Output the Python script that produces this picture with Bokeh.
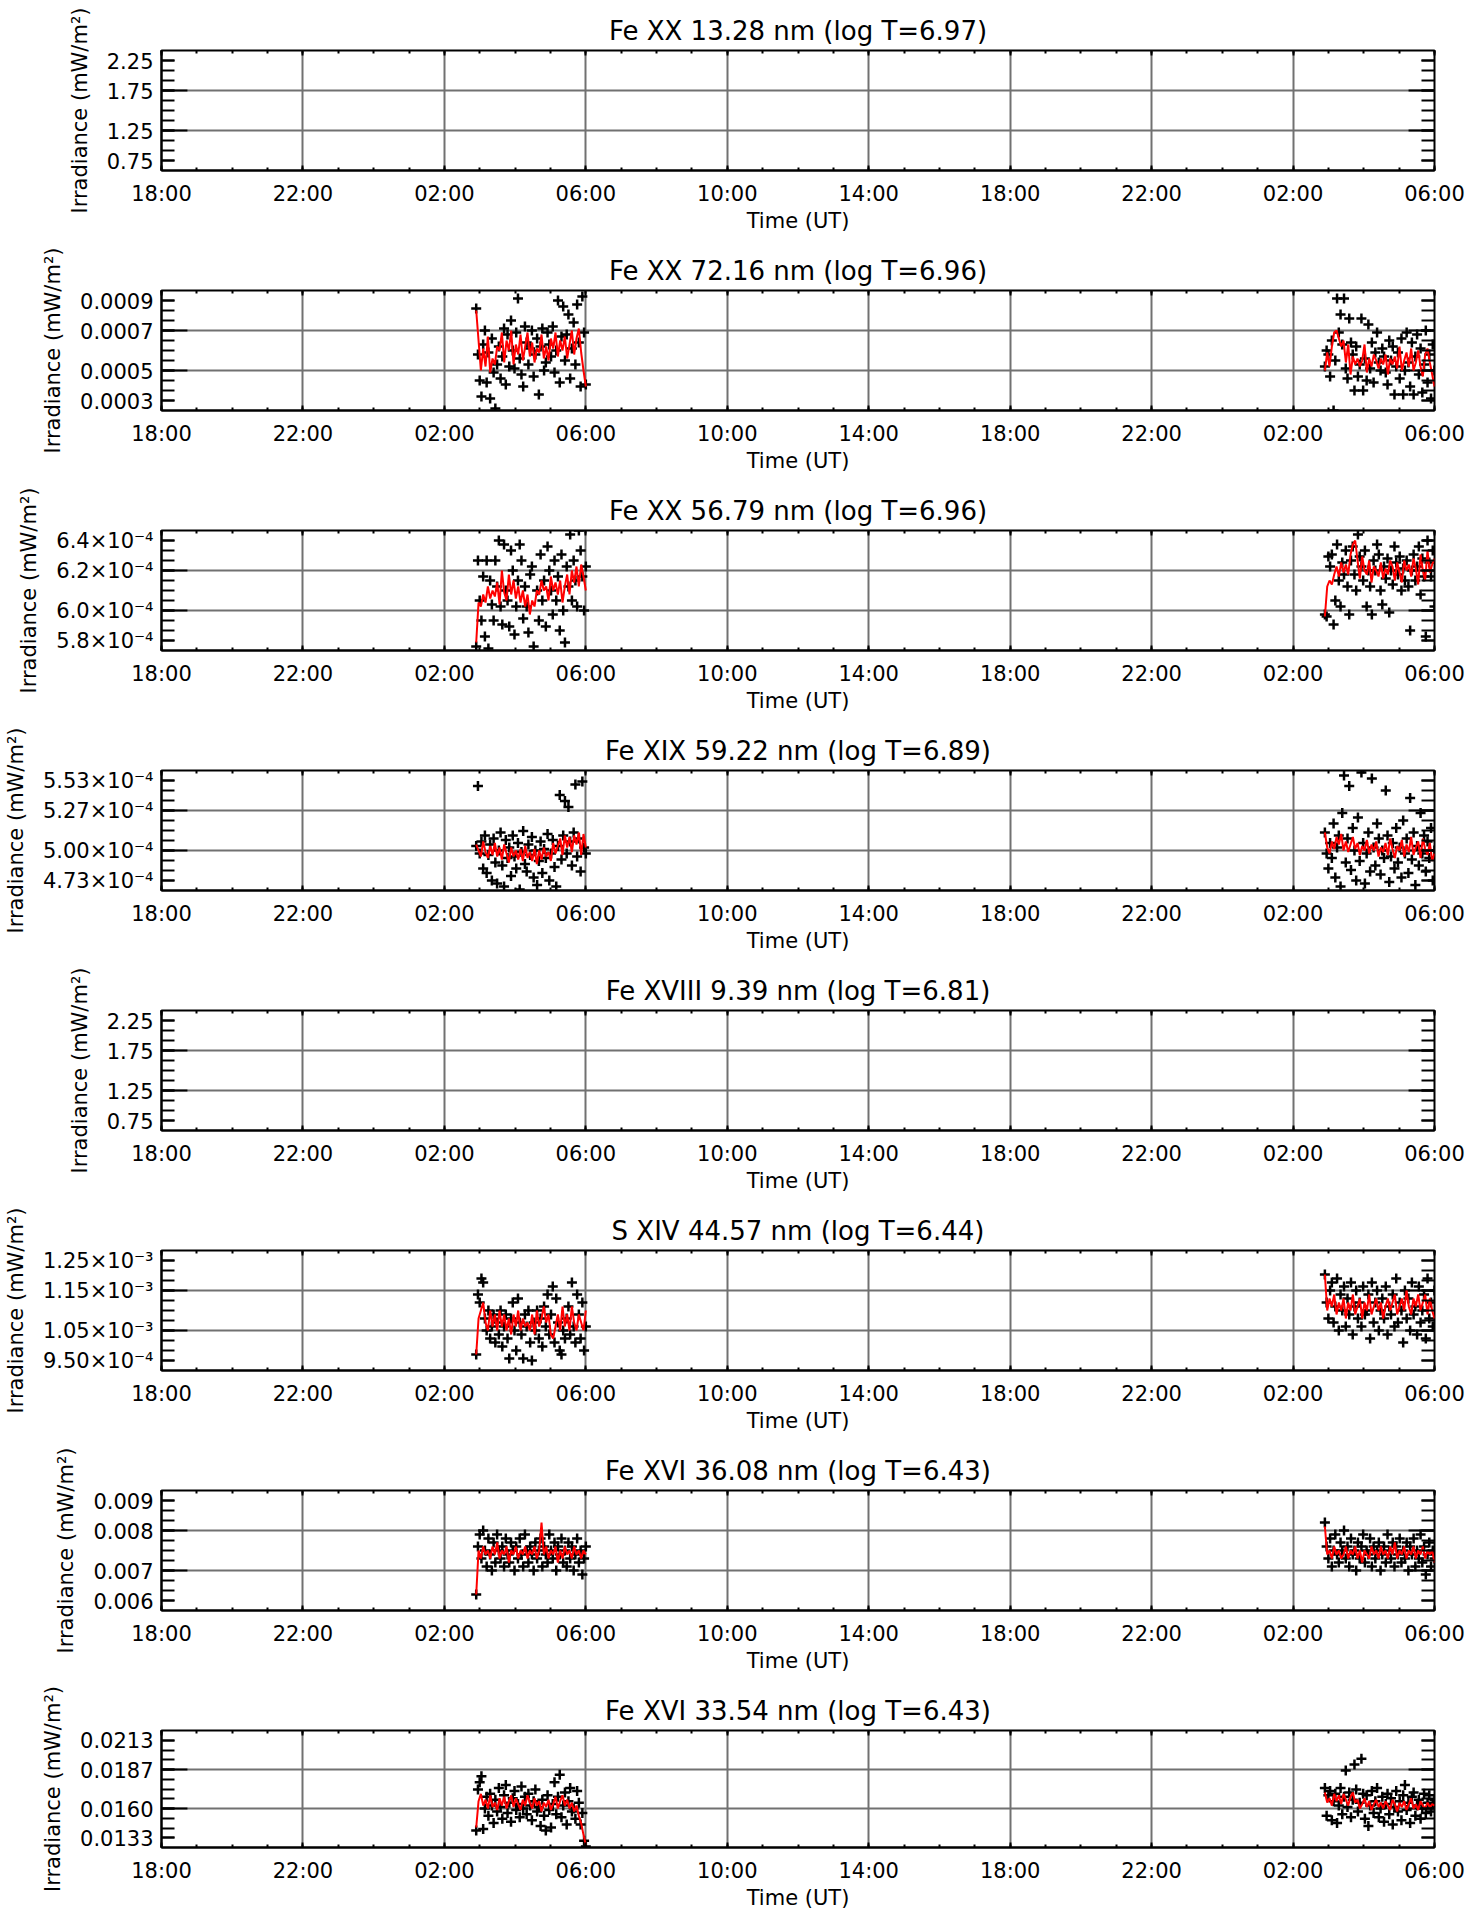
import numpy as np
from bokeh.plotting import figure
from bokeh.layouts import column
from bokeh.models import FixedTicker, CustomJSTickFormatter, LinearAxis
from bokeh.embed import file_html
from bokeh.resources import INLINE

FONT = "DejaVu Sans"

# ---------------- x axis (hours since 18:00 of day 1) ----------------
X_TICKS = [0, 4, 8, 12, 16, 20, 24, 28, 32, 36]
X_LABELS = ["18:00", "22:00", "02:00", "06:00", "10:00", "14:00",
            "18:00", "22:00", "02:00", "06:00"]
SEG1 = [8.9, 12.0]     # first observing window (02:54 - 06:00)
SEG2 = [32.9, 36.0]    # second observing window (02:54 - 06:00)

TITLES = [
    "Fe XX 13.28 nm (log T=6.97)",
    "Fe XX 72.16 nm (log T=6.96)",
    "Fe XX 56.79 nm (log T=6.96)",
    "Fe XIX 59.22 nm (log T=6.89)",
    "Fe XVIII 9.39 nm (log T=6.81)",
    "S XIV 44.57 nm (log T=6.44)",
    "Fe XVI 36.08 nm (log T=6.43)",
    "Fe XVI 33.54 nm (log T=6.43)",
]
Y_BOTTOM = [0.75, 3.0e-4, 5.8e-4, 4.7333e-4, 0.75, 9.5e-4, 6.0e-3, 13.3333e-3]
Y_TOP = [2.25, 9.0e-4, 6.4e-4, 5.5333e-4, 2.25, 12.5e-4, 9.0e-3, 21.3333e-3]
# tick labels, bottom to top
Y_LABELS = [
    ["0.75", "1.25", "1.75", "2.25"],
    ["0.0003", "0.0005", "0.0007", "0.0009"],
    ["5.8×10⁻⁴", "6.0×10⁻⁴", "6.2×10⁻⁴", "6.4×10⁻⁴"],
    ["4.73×10⁻⁴", "5.00×10⁻⁴", "5.27×10⁻⁴", "5.53×10⁻⁴"],
    ["0.75", "1.25", "1.75", "2.25"],
    ["9.50×10⁻⁴", "1.05×10⁻³", "1.15×10⁻³", "1.25×10⁻³"],
    ["0.006", "0.007", "0.008", "0.009"],
    ["0.0133", "0.0160", "0.0187", "0.0213"],
]
SCALE = [1.0, 1e-4, 1e-4, 1e-4, 1.0, 1e-4, 1e-3, 1e-3]

# ---------------- data (values in units of SCALE) ----------------
fe20_72_pts1 = [8.1, 5.8, 4.5, 3.7, 6.3, 7.0, 4.4, 5.9, 3.6, 6.6, 4.9, 3.1, 5.3, 6.2, 4.6, 5.7,
                7.1, 4.3, 6.8, 5.2, 7.5, 6.0, 5.1, 6.9, 8.6, 5.6, 4.8, 4.2, 7.2, 6.4, 5.3, 6.1,
                7.0, 4.7, 5.8, 6.6, 3.8, 6.2, 7.1, 5.0, 5.4, 6.9, 6.3, 5.7, 7.2, 4.9, 6.0, 8.5,
                4.4, 6.7, 8.2, 5.5, 6.8, 7.8, 4.6, 6.1, 7.4, 5.3, 8.3, 6.4, 4.2, 8.7, 6.9, 4.3]
fe20_72_red1 = [8.0, 6.5, 5.0, 6.1, 5.2, 6.7, 4.9, 5.6, 5.3, 6.2, 6.0, 6.9, 5.4, 6.5, 6.0, 7.0,
                5.3, 6.3, 5.8, 6.8, 5.5, 6.2, 6.9, 5.7, 6.4, 5.4, 6.1, 5.9, 6.8, 5.6, 6.2, 5.5,
                6.6, 6.1, 6.9, 5.7, 6.5, 6.0, 6.7, 5.6, 6.3, 7.0, 5.8, 6.6, 7.1, 5.9, 5.0, 4.2]
fe20_72_pts2 = [5.2, 6.0, 5.8, 4.7, 6.5, 3.0, 5.5, 8.6, 6.9, 7.8, 6.3, 8.6, 5.1, 4.6, 7.6, 6.4,
                5.8, 4.0, 6.2, 4.7, 5.3, 7.6, 4.0, 5.6, 4.5, 7.3, 5.1, 6.4, 4.4, 5.9, 6.9, 5.4,
                5.0, 6.1, 5.7, 4.9, 4.3, 6.5, 5.5, 6.2, 3.8, 5.2, 5.9, 4.6, 6.6, 3.8, 5.0, 6.9,
                5.4, 4.2, 6.4, 3.8, 5.7, 6.8, 4.8, 6.1, 3.9, 5.3, 7.0, 4.4, 5.8, 3.6, 6.3, 5.0]
fe20_72_red2 = [5.0, 5.9, 5.2, 6.2, 6.9, 7.0, 6.6, 6.2, 6.5, 5.4, 6.3, 4.8, 5.7, 5.3, 5.6, 5.2,
                5.5, 6.3, 4.9, 5.6, 5.2, 5.8, 5.5, 5.1, 5.6, 5.3, 5.8, 4.8, 5.6, 5.3, 5.7, 5.1,
                6.2, 5.0, 5.5, 5.9, 5.2, 6.1, 5.0, 5.4, 6.0, 5.2, 4.7, 5.8, 6.1, 5.4, 4.8, 4.2]

fe20_56_pts1 = [5.82, 6.25, 6.05, 5.95, 6.17, 5.87, 6.25, 5.81, 6.15, 6.03, 5.95, 6.25, 6.12, 6.35, 6.02, 5.93,
                6.33, 6.10, 6.05, 5.92, 6.30, 6.20, 5.88, 6.02, 6.15, 6.33, 6.25, 5.96, 6.12, 6.02, 5.89, 6.18,
                6.22, 5.82, 5.77, 6.10, 5.95, 6.28, 6.05, 6.15, 5.92, 6.32, 6.20, 6.10, 5.98, 6.25, 6.05, 6.17,
                5.90, 6.28, 6.00, 5.84, 6.22, 6.12, 6.38, 6.05, 6.25, 6.15, 6.02, 6.40, 6.30, 6.17, 6.00, 6.22]
fe20_56_red1 = [5.84, 6.04, 6.02, 6.08, 6.04, 6.12, 6.06, 6.10, 6.07, 6.14, 6.03, 6.20, 6.09, 6.05, 6.18, 6.08,
                6.15, 6.06, 6.12, 6.04, 6.10, 6.02, 6.08, 5.98, 6.05, 6.02, 6.10, 6.08, 6.15, 6.10, 6.12, 6.05,
                6.17, 6.10, 6.14, 6.08, 6.15, 6.04, 6.12, 6.18, 6.08, 6.20, 6.14, 6.22, 6.12, 6.23, 6.17, 6.10]
fe20_56_pts2 = [5.98, 5.97, 6.27, 6.22, 6.28, 5.93, 6.05, 6.33, 6.15, 6.02, 6.24, 6.18, 6.30, 6.12, 5.98, 6.25,
                6.32, 6.18, 6.10, 6.38, 6.27, 6.22, 6.15, 6.30, 6.02, 6.20, 6.12, 5.98, 6.25, 6.20, 6.33, 6.28,
                6.10, 6.03, 6.22, 6.16, 6.26, 5.99, 6.20, 6.13, 6.32, 6.24, 6.18, 6.27, 6.10, 6.21, 6.15, 6.25,
                6.12, 5.90, 6.20, 6.28, 6.15, 6.22, 6.32, 6.08, 6.26, 6.17, 5.87, 6.35, 6.24, 6.17, 6.30, 6.02]
fe20_56_red2 = [5.97, 6.12, 6.15, 6.13, 6.18, 6.22, 6.17, 6.24, 6.19, 6.23, 6.18, 6.28, 6.33, 6.35, 6.25, 6.16,
                6.27, 6.20, 6.18, 6.25, 6.14, 6.22, 6.20, 6.17, 6.24, 6.16, 6.21, 6.18, 6.25, 6.22, 6.15, 6.24,
                6.19, 6.14, 6.25, 6.20, 6.23, 6.17, 6.26, 6.21, 6.13, 6.28, 6.20, 6.15, 6.30, 6.19, 6.23, 6.26]

fe19_59_pts1 = [5.03, 5.43, 4.98, 5.06, 4.88, 5.10, 4.85, 4.97, 5.04, 4.80, 5.08, 4.92, 4.78, 5.00, 5.12, 4.90,
                4.76, 5.07, 4.95, 5.02, 4.83, 5.10, 4.96, 4.88, 5.05, 4.74, 4.99, 5.13, 4.91, 4.86, 5.04, 4.97,
                5.09, 4.82, 5.00, 4.77, 4.93, 5.06, 4.85, 5.01, 4.95, 5.11, 4.80, 4.98, 5.07, 4.89, 4.76, 5.03,
                5.37, 4.94, 5.10, 5.33, 4.98, 5.29, 5.06, 4.90, 5.12, 5.44, 4.96, 5.08, 4.86, 5.46, 5.02, 4.98]
fe19_59_red1 = [5.04, 5.00, 4.96, 5.06, 4.99, 4.95, 5.03, 4.97, 5.05, 4.96, 5.02, 4.94, 5.04, 4.98, 4.92, 5.02,
                4.96, 5.00, 4.94, 5.01, 4.93, 5.03, 4.95, 4.99, 4.93, 5.01, 4.91, 5.00, 4.94, 5.02, 4.96, 4.99,
                4.93, 5.05, 4.98, 5.03, 5.08, 4.97, 5.10, 5.02, 5.09, 4.99, 5.10, 5.04, 5.12, 4.97, 5.11, 5.02]
fe19_59_pts2 = [5.12, 4.98, 4.88, 5.05, 4.95, 5.18, 4.82, 5.02, 5.10, 4.76, 5.25, 5.50, 4.92, 5.08, 5.43, 4.87,
                5.15, 5.00, 4.80, 5.22, 4.93, 5.52, 5.05, 4.78, 4.98, 5.12, 4.86, 5.48, 5.02, 4.90, 5.18, 5.08,
                4.84, 5.00, 4.95, 5.40, 5.10, 4.79, 4.96, 5.05, 4.88, 5.15, 4.92, 5.02, 4.82, 5.20, 4.98, 5.08,
                4.85, 5.35, 4.94, 5.12, 4.77, 5.03, 4.90, 5.25, 4.98, 5.10, 4.86, 5.06, 4.95, 5.15, 4.80, 5.00]
fe19_59_red2 = [5.12, 5.02, 4.98, 5.06, 5.01, 5.09, 5.04, 5.11, 5.00, 5.06, 4.99, 5.04, 5.09, 5.01, 5.05, 4.97,
                5.03, 5.00, 5.07, 4.98, 5.04, 5.00, 5.06, 4.96, 5.02, 4.99, 5.05, 4.97, 5.08, 5.01, 4.95, 5.03,
                5.00, 5.07, 4.96, 5.04, 4.99, 5.09, 4.97, 5.02, 5.06, 4.95, 5.08, 5.01, 4.97, 5.05, 4.93, 4.98]

s14_44_pts1 = [9.9, 11.4, 11.2, 11.8, 11.7, 10.8, 10.5, 11.0, 10.3, 10.6, 10.9, 10.2, 10.7, 10.4, 11.0, 10.1,
               10.6, 10.9, 10.3, 9.8, 10.8, 11.2, 10.5, 10.0, 11.3, 10.7, 10.4, 9.8, 10.9, 10.6, 11.0, 10.2,
               9.75, 10.7, 10.5, 11.0, 10.3, 10.8, 10.1, 11.1, 10.6, 11.4, 10.4, 10.9, 11.6, 10.2, 11.3, 10.7,
               10.0, 9.9, 10.5, 10.3, 10.8, 11.1, 10.4, 11.7, 10.6, 10.2, 11.4, 10.9, 10.3, 11.2, 10.0, 10.6]
s14_44_red1 = [9.9, 10.8, 11.0, 11.2, 10.7, 10.5, 11.0, 10.6, 10.9, 10.5, 11.0, 10.6, 10.9, 10.5, 10.8, 10.4,
               10.9, 10.6, 11.0, 10.5, 10.8, 10.6, 10.7, 10.5, 10.9, 10.4, 11.0, 10.6, 10.8, 11.1, 10.7, 10.9,
               10.4, 10.3, 10.6, 10.9, 10.5, 11.1, 10.6, 10.9, 10.5, 11.1, 10.7, 10.5, 10.9, 10.7, 10.5, 11.0]
s14_44_pts2 = [11.9, 11.2, 10.8, 11.5, 11.7, 10.7, 11.1, 11.8, 10.5, 11.4, 11.0, 11.6, 10.6, 11.3, 10.9, 11.7,
               10.4, 11.1, 11.5, 10.8, 11.2, 10.6, 11.6, 10.9, 11.0, 11.4, 10.3, 11.7, 10.7, 11.2, 11.5, 10.5,
               11.0, 11.3, 10.8, 11.6, 10.4, 11.1, 10.9, 11.4, 10.6, 11.8, 10.7, 11.2, 11.0, 10.2, 11.5, 10.8,
               11.3, 10.5, 11.7, 10.9, 11.1, 10.4, 11.6, 10.7, 11.0, 11.4, 10.3, 11.8, 10.8, 11.2, 10.6, 11.5]
s14_44_red2 = [11.9, 11.0, 11.3, 11.1, 11.4, 10.9, 11.2, 11.0, 11.3, 10.8, 11.2, 11.0, 11.4, 10.9, 11.1, 11.3,
               10.8, 11.2, 11.0, 11.4, 10.9, 11.1, 11.3, 11.0, 11.2, 10.8, 11.1, 11.3, 11.0, 11.2, 11.4, 10.9,
               11.1, 11.3, 11.0, 11.5, 11.1, 10.9, 11.3, 11.1, 11.4, 11.0, 11.2, 11.4, 10.9, 11.3, 11.0, 10.8]

fe16_36_pts1 = [6.4, 7.6, 7.9, 7.3, 8.0, 7.5, 7.1, 7.8, 7.4, 7.0, 7.7, 7.2, 7.9, 7.5, 7.3, 7.6,
                7.1, 7.8, 7.4, 7.2, 7.7, 7.5, 7.0, 7.6, 7.3, 7.8, 7.4, 7.1, 7.9, 7.5, 7.2, 7.6,
                7.4, 7.0, 7.7, 7.3, 7.5, 7.8, 7.1, 7.6, 7.4, 7.2, 7.9, 7.5, 7.3, 7.7, 7.0, 7.6,
                7.4, 7.8, 7.2, 7.5, 7.1, 7.7, 7.3, 7.6, 7.0, 7.4, 7.8, 7.2, 7.5, 6.9, 7.3, 7.6]
fe16_36_red1 = [6.4, 7.5, 7.3, 7.6, 7.4, 7.5, 7.3, 7.6, 7.4, 7.7, 7.3, 7.5, 7.4, 7.6, 7.2, 7.5,
                7.4, 7.6, 7.3, 7.5, 7.4, 7.6, 7.3, 7.5, 7.4, 7.6, 7.3, 7.5, 8.2, 7.4, 7.6, 7.3,
                7.5, 7.4, 7.6, 7.2, 7.5, 7.3, 7.6, 7.4, 7.5, 7.3, 7.6, 7.4, 7.5, 7.3, 7.5, 7.4]
fe16_36_pts2 = [8.2, 7.6, 7.3, 7.8, 7.1, 7.5, 7.9, 7.4, 7.2, 7.7, 7.5, 8.0, 7.3, 7.6, 7.1, 7.8,
                7.4, 7.5, 7.0, 7.7, 7.3, 7.6, 7.9, 7.2, 7.5, 7.4, 7.8, 7.1, 7.6, 7.3, 7.5, 7.7,
                7.0, 7.4, 7.6, 7.2, 7.9, 7.5, 7.3, 7.7, 7.1, 7.6, 7.4, 7.8, 7.2, 7.5, 7.3, 7.7,
                7.0, 7.6, 7.4, 7.8, 7.1, 7.5, 7.3, 7.9, 7.2, 7.6, 6.9, 7.4, 7.7, 7.1, 7.5, 7.3]
fe16_36_red2 = [8.1, 7.4, 7.5, 7.3, 7.6, 7.4, 7.5, 7.3, 7.4, 7.6, 7.3, 7.5, 7.4, 7.6, 7.3, 7.5,
                7.2, 7.5, 7.4, 7.3, 7.6, 7.4, 7.5, 7.3, 7.6, 7.4, 7.5, 7.3, 7.6, 7.4, 7.7, 7.3,
                7.5, 7.4, 7.6, 7.3, 7.5, 7.4, 7.6, 7.3, 7.5, 7.4, 7.6, 7.3, 7.5, 7.4, 7.5, 7.2]

fe16_33_pts1 = [14.5, 17.3, 17.8, 18.2, 14.6, 16.0, 16.8, 15.5, 17.0, 16.2, 15.0, 16.6, 15.8, 17.4, 16.1, 15.3,
                16.9, 17.6, 15.7, 16.4, 15.1, 16.7, 17.2, 15.9, 16.3, 15.4, 17.5, 16.0, 16.8, 15.6, 17.0, 16.2,
                15.2, 16.5, 17.3, 15.8, 16.1, 14.8, 16.6, 15.5, 14.5, 16.9, 15.9, 14.7, 16.3, 17.8, 15.6, 16.8,
                18.3, 15.4, 16.2, 17.1, 14.9, 16.5, 17.4, 15.8, 16.0, 15.3, 17.2, 16.4, 14.9, 15.7, 13.8, 13.4]
fe16_33_red1 = [14.7, 16.5, 17.0, 16.2, 16.6, 16.0, 16.9, 16.1, 16.4, 15.9, 16.7, 16.2, 16.8, 16.0, 16.5, 16.9,
                16.1, 16.7, 16.3, 15.9, 16.6, 16.2, 16.9, 16.4, 16.0, 16.7, 16.2, 16.5, 15.8, 16.4, 16.1, 16.6,
                15.9, 16.3, 16.8, 16.0, 16.5, 16.9, 16.2, 16.6, 16.0, 16.4, 15.8, 16.2, 15.5, 15.0, 14.2, 13.5]
fe16_33_pts2 = [17.4, 15.5, 16.9, 17.2, 15.2, 16.5, 17.0, 15.0, 16.2, 17.4, 15.6, 16.8, 18.6, 16.1, 17.1, 15.4,
                16.6, 19.0, 17.3, 15.8, 16.4, 19.4, 17.0, 15.3, 16.9, 14.8, 16.2, 17.2, 15.7, 16.5, 17.4, 15.4,
                16.0, 16.8, 15.1, 16.3, 17.0, 15.6, 16.7, 14.9, 16.1, 17.2, 15.8, 16.5, 15.2, 16.9, 17.6, 15.9,
                16.4, 15.0, 16.8, 17.1, 15.5, 16.2, 16.6, 15.3, 16.0, 17.0, 15.7, 16.4, 16.9, 15.8, 16.3, 16.6]
fe16_33_red2 = [17.1, 16.4, 16.7, 16.2, 17.0, 16.5, 16.9, 16.3, 17.0, 16.6, 16.2, 16.8, 17.1, 16.4, 16.6, 16.0,
                16.3, 16.7, 16.1, 16.5, 15.9, 16.3, 16.6, 16.1, 16.4, 16.0, 16.5, 16.2, 15.9, 16.6, 16.3, 15.8,
                16.4, 16.1, 16.5, 15.9, 16.3, 16.7, 16.0, 16.3, 15.9, 16.5, 16.2, 16.0, 16.4, 16.1, 16.3, 16.2]

PANEL_DATA = [
    None,
    (fe20_72_pts1, fe20_72_red1, fe20_72_pts2, fe20_72_red2),
    (fe20_56_pts1, fe20_56_red1, fe20_56_pts2, fe20_56_red2),
    (fe19_59_pts1, fe19_59_red1, fe19_59_pts2, fe19_59_red2),
    None,
    (s14_44_pts1, s14_44_red1, s14_44_pts2, s14_44_red2),
    (fe16_36_pts1, fe16_36_red1, fe16_36_pts2, fe16_36_red2),
    (fe16_33_pts1, fe16_33_red1, fe16_33_pts2, fe16_33_red2),
]

# ---------------- layout / style ----------------
LEFT = 158
FRAME_W = 1276
FIG_W = LEFT + FRAME_W + 39
FRAME_H = 120
GRID_COLOR = "#717171"
TICK_FS = "21px"

def style_axis(ax, fs=TICK_FS):
    ax.major_label_text_font = FONT
    ax.major_label_text_font_size = fs
    ax.major_label_text_color = "black"
    ax.axis_label_text_font = FONT
    ax.axis_label_text_font_size = "21px"
    ax.axis_label_text_font_style = "normal"
    ax.axis_label_text_color = "black"
    ax.axis_line_color = "black"
    ax.axis_line_width = 2
    ax.major_tick_line_color = "black"
    ax.minor_tick_line_color = "black"
    ax.major_tick_line_width = 2
    ax.minor_tick_line_width = 2
    ax.major_tick_out = 0
    ax.minor_tick_out = 0


blank_fmt = CustomJSTickFormatter(code="return '';")

figs = []
n = len(TITLES)
for i in range(n):
    b, t = Y_BOTTOM[i], Y_TOP[i]
    span = t - b
    top_border = 50
    bottom_border = 62 if i == n - 1 else 70
    p = figure(width=FIG_W, height=top_border + FRAME_H + bottom_border,
               x_range=(0, 36), y_range=(b, t),
               output_backend="svg", toolbar_location=None,
               min_border_left=LEFT, min_border_right=FIG_W - LEFT - FRAME_W,
               min_border_top=top_border, min_border_bottom=bottom_border,
               title=TITLES[i])
    p.title.text_font = FONT
    p.title.text_font_size = "26px"
    p.title.text_font_style = "normal"
    p.title.text_color = "black"
    p.title.align = "center"
    p.title.standoff = 9
    p.outline_line_color = "black"
    p.outline_line_width = 2
    p.background_fill_color = "white"
    p.border_fill_color = "white"

    y_major = [b + span / 12, b + span / 3, b + 2 * span / 3, t - span / 12]
    y_minor = [b + k * span / 12 for k in range(1, 12)]
    y_ticker = FixedTicker(ticks=y_major, minor_ticks=y_minor)
    x_ticker = FixedTicker(ticks=X_TICKS, minor_ticks=list(range(0, 37)))
    y_fmt = CustomJSTickFormatter(args=dict(labels=Y_LABELS[i]), code="return labels[index];")
    x_fmt = CustomJSTickFormatter(args=dict(labels=X_LABELS), code="return labels[index];")

    # bottom axis
    xa = p.xaxis[0]
    xa.ticker = x_ticker
    xa.formatter = x_fmt
    xa.axis_label = "Time (UT)"
    style_axis(xa)
    xa.major_tick_in = 5
    xa.minor_tick_in = 3
    xa.major_label_standoff = 11
    xa.axis_label_standoff = 0

    # left axis
    ya = p.yaxis[0]
    ya.ticker = y_ticker
    ya.formatter = y_fmt
    ya.axis_label = "Irradiance (mW/m²)"
    style_axis(ya)
    ya.major_tick_in = 13
    ya.minor_tick_in = 13
    ya.major_label_standoff = 8
    ya.axis_label_standoff = 12

    # mirrored top / right axes (ticks only)
    top = LinearAxis(ticker=x_ticker, formatter=blank_fmt)
    style_axis(top, fs="1px")
    top.major_tick_in = 5
    top.minor_tick_in = 3
    top.major_label_standoff = 0
    top.axis_line_color = None
    p.add_layout(top, "above")

    right = LinearAxis(ticker=y_ticker, formatter=blank_fmt)
    style_axis(right, fs="1px")
    right.major_tick_in = 13
    right.minor_tick_in = 13
    right.major_label_standoff = 0
    right.axis_line_color = None
    p.add_layout(right, "right")

    # grids
    p.xgrid.ticker = FixedTicker(ticks=X_TICKS[1:-1])
    p.ygrid.ticker = FixedTicker(ticks=[b + span / 3, b + 2 * span / 3])
    p.xgrid.grid_line_color = GRID_COLOR
    p.ygrid.grid_line_color = GRID_COLOR
    p.xgrid.grid_line_width = 2
    p.ygrid.grid_line_width = 2

    # long ticks at the two gridded y values (left and right edges)
    L = 26 * 36 / FRAME_W
    mids = [b + span / 3, b + 2 * span / 3]
    p.segment(x0=[0, 0, 36 - L, 36 - L], y0=mids + mids,
              x1=[L, L, 36, 36], y1=mids + mids,
              line_color="black", line_width=2)

    data = PANEL_DATA[i]
    if data is not None:
        sc = SCALE[i]
        for seg, pts, red in ((SEG1, data[0], data[1]), (SEG2, data[2], data[3])):
            tp = np.linspace(seg[0], seg[1], len(pts))
            tr = np.linspace(seg[0], seg[1], len(red))
            p.scatter(tp, np.array(pts) * sc, marker="cross", size=10,
                      line_color="black", line_width=2.5)
            p.line(tr, np.array(red) * sc, line_color="red", line_width=2)
    figs.append(p)

layout = column(*figs, spacing=0)
open("out.html", "w").write(file_html(layout, INLINE))
